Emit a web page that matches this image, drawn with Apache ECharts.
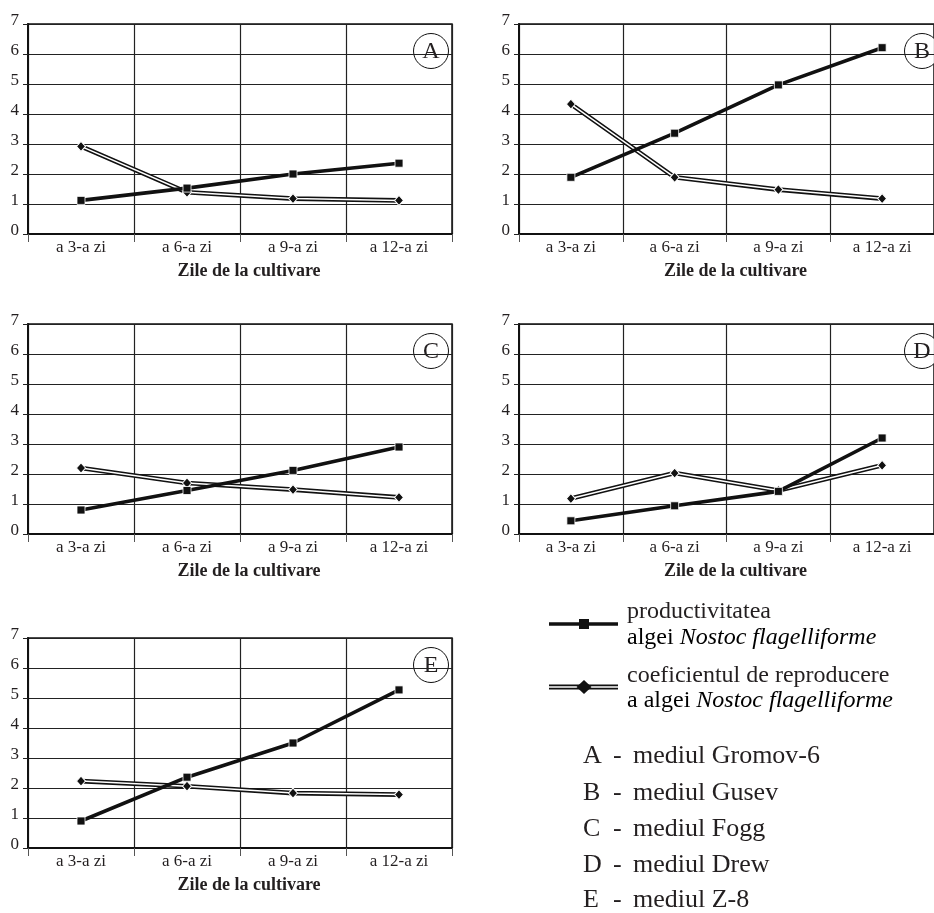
<!DOCTYPE html>
<html>
<head>
<meta charset="utf-8">
<script src="https://cdn.jsdelivr.net/npm/echarts@6/dist/echarts.min.js"></script>
<style>
html,body{margin:0;padding:0;background:#fff;}
#chart{width:934px;height:913px;}
</style>
</head>
<body>
<div id="chart"></div>
<script>
// ---- data ----
const categories = ['a 3-a zi', 'a 6-a zi', 'a 9-a zi', 'a 12-a zi'];
const yMin = 0, yMax = 7, yStep = 1;
const xAxisTitle = 'Zile de la cultivare';

const panelLetters = ['A', 'B', 'C', 'D', 'E'];
const prodA = [1.12, 1.53, 2.00, 2.36];
const coefA = [2.92, 1.39, 1.18, 1.12];
const prodB = [1.89, 3.36, 4.97, 6.21];
const coefB = [4.33, 1.89, 1.48, 1.18];
const prodC = [0.80, 1.45, 2.12, 2.90];
const coefC = [2.20, 1.70, 1.48, 1.22];
const prodD = [0.44, 0.94, 1.42, 3.20];
const coefD = [1.18, 2.03, 1.45, 2.29];
const prodE = [0.90, 2.36, 3.50, 5.27];
const coefE = [2.23, 2.06, 1.83, 1.78];

const legendProd = ['productivitatea', 'algei ', 'Nostoc flagelliforme'];
const legendCoef = ['coeficientul de reproducere', 'a algei ', 'Nostoc flagelliforme'];
const mediaLetters = ['A', 'B', 'C', 'D', 'E'];
const mediaNames = ['mediul Gromov-6', 'mediul Gusev', 'mediul Fogg', 'mediul Drew', 'mediul Z-8'];

// ---- layout ----
const FONT = 'Liberation Serif';
const INK = '#231f20';
const panels = [
  { left: 28,  top: 24,  prod: prodA, coef: coefA },
  { left: 519, top: 24,  prod: prodB, coef: coefB },
  { left: 28,  top: 324, prod: prodC, coef: coefC },
  { left: 519, top: 324, prod: prodD, coef: coefD },
  { left: 28,  top: 638, prod: prodE, coef: coefE }
];
const PW = 424, PH = 210;

const grid = [], xAxis = [], yAxis = [], series = [], graphic = [];
panels.forEach((p, i) => {
  grid.push({
    left: p.left, top: p.top, width: PW, height: PH,
    show: true, borderColor: '#111', borderWidth: 1.5, backgroundColor: 'transparent'
  });
  xAxis.push({
    type: 'category', gridIndex: i, data: categories, boundaryGap: true,
    name: xAxisTitle, nameLocation: 'middle', nameGap: 28,
    nameTextStyle: { fontFamily: FONT, fontSize: 18, fontWeight: 'bold', color: INK, padding: [0, 0, 0, 18] },
    axisLine: { show: true, lineStyle: { color: '#111', width: 2 } },
    axisTick: { show: true, length: 8, lineStyle: { color: '#555', width: 1 } },
    axisLabel: { fontFamily: FONT, fontSize: 17, color: INK, margin: 5 },
    splitLine: { show: true, lineStyle: { color: '#222', width: 1.2 } }
  });
  yAxis.push({
    type: 'value', gridIndex: i, min: yMin, max: yMax, interval: yStep,
    axisLine: { show: true, lineStyle: { color: '#111', width: 2 } },
    axisTick: { show: true, length: 5, lineStyle: { color: '#222', width: 1 } },
    axisLabel: { fontFamily: FONT, fontSize: 17, color: INK, margin: 9, verticalAlign: 'bottom', lineHeight: 7 },
    splitLine: { show: true, lineStyle: { color: '#222', width: 1.2 } }
  });
  // double line (coefficient)
  series.push({
    type: 'line', xAxisIndex: i, yAxisIndex: i, data: p.coef, symbol: 'none',
    lineStyle: { color: '#111', width: 4.6 }, silent: true, animation: false, z: 2
  });
  series.push({
    type: 'line', xAxisIndex: i, yAxisIndex: i, data: p.coef,
    symbol: 'diamond', symbolSize: [9, 10],
    itemStyle: { color: '#111', borderColor: '#fff', borderWidth: 1 },
    lineStyle: { color: '#fff', width: 1.5 }, animation: false, z: 3
  });
  // productivity
  series.push({
    type: 'line', xAxisIndex: i, yAxisIndex: i, data: p.prod,
    symbol: 'rect', symbolSize: 8,
    itemStyle: { color: '#111', borderColor: '#fff', borderWidth: 0.8 },
    lineStyle: { color: '#111', width: 3.6 }, animation: false, z: 4
  });
  // panel letter in circle
  graphic.push({
    type: 'group', x: p.left + PW - 21, y: p.top + 27, z: 100,
    children: [
      { type: 'circle', shape: { cx: 0, cy: 0, r: 17.5 }, style: { fill: '#fff', stroke: '#111', lineWidth: 1 } },
      { type: 'text', x: 0, y: 1, style: { text: panelLetters[i], font: '24px "' + FONT + '"', fill: INK, align: 'center', verticalAlign: 'middle' } }
    ]
  });
});

// ---- legend (drawn) ----
const lx0 = 549, lx1 = 618, lmid = 584;
graphic.push(
  { type: 'line', shape: { x1: lx0, y1: 624, x2: lx1, y2: 624 }, style: { stroke: '#111', lineWidth: 3.6 } },
  { type: 'rect', shape: { x: lmid - 5, y: 619, width: 10, height: 10 }, style: { fill: '#111' } },
  { type: 'line', shape: { x1: lx0, y1: 687, x2: lx1, y2: 687 }, style: { stroke: '#111', lineWidth: 5 } },
  { type: 'line', shape: { x1: lx0, y1: 687, x2: lx1, y2: 687 }, style: { stroke: '#fff', lineWidth: 1.6 } },
  { type: 'polygon', shape: { points: [[lmid, 680], [lmid + 7.5, 687], [lmid, 694], [lmid - 7.5, 687]] }, style: { fill: '#111' } },
  { type: 'text', x: 627, y: 612, style: { text: legendProd[0], font: '24px "' + FONT + '"', fill: INK, verticalAlign: 'middle' } },
  { type: 'text', x: 627, y: 638, style: {
      text: '{n|' + legendProd[1] + '}{i|' + legendProd[2] + '}', verticalAlign: 'middle',
      rich: { n: { fontFamily: FONT, fontSize: 24, color: INK }, i: { fontFamily: FONT, fontSize: 24, fontStyle: 'italic', color: INK } } } },
  { type: 'text', x: 627, y: 676, style: { text: legendCoef[0], font: '24px "' + FONT + '"', fill: INK, verticalAlign: 'middle' } },
  { type: 'text', x: 627, y: 701, style: {
      text: '{n|' + legendCoef[1] + '}{i|' + legendCoef[2] + '}', verticalAlign: 'middle',
      rich: { n: { fontFamily: FONT, fontSize: 24, color: INK }, i: { fontFamily: FONT, fontSize: 24, fontStyle: 'italic', color: INK } } } }
);
const rowBase = [756, 793, 829, 865, 900];
mediaLetters.forEach((L, k) => {
  graphic.push(
    { type: 'text', x: 583, y: rowBase[k], style: { text: L, font: '26px "' + FONT + '"', fill: INK, verticalAlign: 'middle' } },
    { type: 'text', x: 613, y: rowBase[k], style: { text: '-', font: '26px "' + FONT + '"', fill: INK, verticalAlign: 'middle' } },
    { type: 'text', x: 633, y: rowBase[k], style: { text: mediaNames[k], font: '26px "' + FONT + '"', fill: INK, verticalAlign: 'middle' } }
  );
});

const chart = echarts.init(document.getElementById('chart'), null, { renderer: 'canvas' });
chart.setOption({
  backgroundColor: '#fff',
  animation: false,
  textStyle: { fontFamily: FONT },
  grid, xAxis, yAxis, series, graphic
});
</script>
</body>
</html>
